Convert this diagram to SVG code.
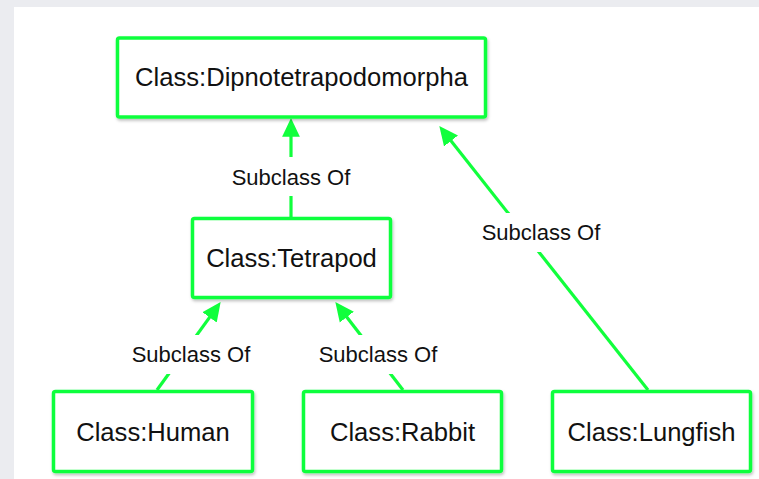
<svg xmlns="http://www.w3.org/2000/svg" width="759" height="479" viewBox="0 0 759 479">
<style>
.box{fill:#fff;stroke:#11ff3c;stroke-width:3.5;filter:url(#sh)}
.nt{font-family:"Liberation Sans",Arial,sans-serif;font-size:25.6px;fill:#111;text-anchor:middle}
.edge{stroke:#11ff3c;stroke-width:3.2;fill:none;marker-end:url(#arr)}
.lbg{fill:#fff}
.lt{font-family:"Liberation Sans",Arial,sans-serif;font-size:22px;fill:#111;text-anchor:middle}
</style>
<defs>
<filter id="sh" x="-10%" y="-20%" width="120%" height="150%">
<feDropShadow dx="1" dy="2" stdDeviation="1.6" flood-color="#000" flood-opacity="0.25"/>
</filter>
<marker id="arr" markerUnits="userSpaceOnUse" markerWidth="20" markerHeight="20" viewBox="0 0 18 16" refX="7" refY="8" orient="auto">
<path d="M0,0 L17,8 L0,16 Z" fill="#11ff3c"/>
</marker>
</defs>
<rect x="0" y="0" width="759" height="479" fill="#ebecf0"/>
<rect x="14" y="7" width="745" height="472" fill="#fff"/>
<g id="connectors">
<line class="edge" x1="291" y1="217" x2="291" y2="129"/>
<line class="edge" x1="157" y1="390" x2="214.1" y2="311.1"/>
<line class="edge" x1="403" y1="390" x2="342.1" y2="310.9"/>
<line class="edge" x1="648" y1="390" x2="446.2" y2="134.8"/>
<rect class="lbg" x="229" y="157" width="124" height="39"/>
<text class="lt" x="291" y="185">Subclass Of</text>
<rect class="lbg" x="129" y="335" width="124" height="39"/>
<text class="lt" x="191" y="362">Subclass Of</text>
<rect class="lbg" x="316" y="335" width="124" height="39"/>
<text class="lt" x="378" y="362">Subclass Of</text>
<rect class="lbg" x="479" y="213" width="124" height="39"/>
<text class="lt" x="541" y="240">Subclass Of</text>
</g>
<g id="dipnotetrapodomorpha">
<rect class="box" x="117.5" y="38" width="368" height="79" rx="2"/>
<text class="nt" x="301.5" y="86">Class:Dipnotetrapodomorpha</text>
</g>
<g id="tetrapod">
<rect class="box" x="192.5" y="218.5" width="198" height="79" rx="2"/>
<text class="nt" x="291.5" y="267">Class:Tetrapod</text>
</g>
<g id="human">
<rect class="box" x="53.5" y="391.5" width="199" height="80" rx="2"/>
<text class="nt" x="153" y="441">Class:Human</text>
</g>
<g id="rabbit">
<rect class="box" x="303.5" y="391.5" width="198" height="80" rx="2"/>
<text class="nt" x="402.5" y="441">Class:Rabbit</text>
</g>
<g id="lungfish">
<rect class="box" x="552.5" y="391.5" width="198" height="80" rx="2"/>
<text class="nt" x="651.5" y="441">Class:Lungfish</text>
</g>
</svg>
